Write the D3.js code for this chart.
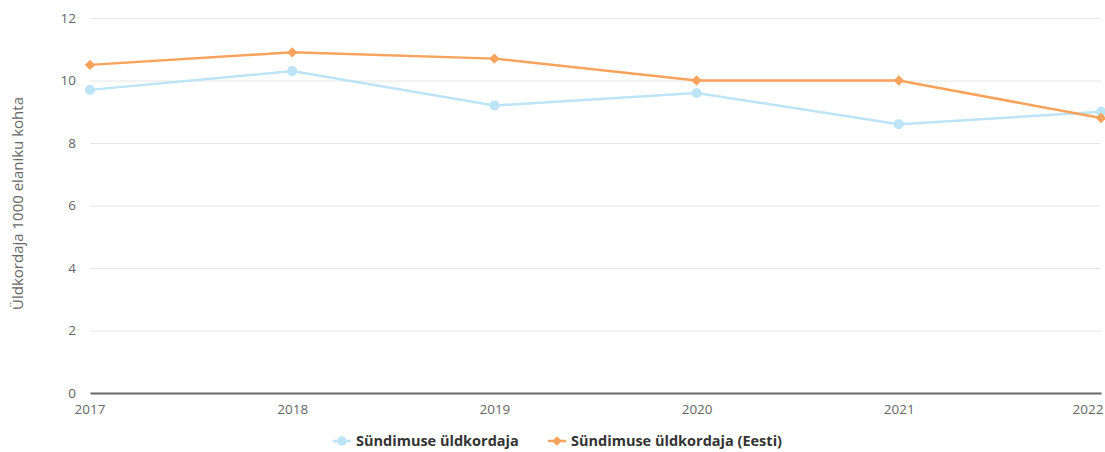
<!DOCTYPE html>
<html>
<head>
<meta charset="utf-8">
<script src="https://cdn.jsdelivr.net/npm/d3@7"></script>
<style>
  body { margin: 0; background: #fff; font-family: "Open Sans", sans-serif; }
  .tick text { fill: #666; font-size: 13.5px; font-family: "Open Sans", sans-serif; }
  .aText { fill: #666; font-size: 15px; }
  .legendText { fill: #333; font-size: 14.5px; font-weight: bold; }
</style>
</head>
<body>
<div id="chart"></div>
<script>
// chart data
var years = ["2017", "2018", "2019", "2020", "2021", "2022"];
var localRate = [9.7, 10.3, 9.2, 9.6, 8.6, 9.0];
var estoniaRate = [10.5, 10.9, 10.7, 10.0, 10.0, 8.8];
var yTicks = [0, 2, 4, 6, 8, 10, 12];
var seriesNames = ["Sündimuse üldkordaja", "Sündimuse üldkordaja (Eesti)"];
var seriesColors = ["#bce4f6", "#f7a35c"];

var svgWidth = 1105;
var svgHeight = 452;
var margin = { top: 18, right: 4, bottom: 59, left: 90 };
var width = svgWidth - margin.left - margin.right;
var height = svgHeight - margin.top - margin.bottom;

var svg = d3.select("#chart")
  .append("svg")
  .attr("width", svgWidth)
  .attr("height", svgHeight);

var chartGroup = svg.append("g")
  .attr("transform", `translate(${margin.left}, ${margin.top})`);

var xScale = d3.scalePoint()
  .domain(years)
  .range([0, width]);

var yScale = d3.scaleLinear()
  .domain([0, 12])
  .range([height, 0]);

// gridlines + y labels
var leftAxis = d3.axisLeft(yScale)
  .tickValues(yTicks)
  .tickSize(-width)
  .tickPadding(14);

var yAxis = chartGroup.append("g").call(leftAxis);
yAxis.select(".domain").remove();
yAxis.selectAll(".tick line").attr("stroke", "#e6e6e6");
yAxis.selectAll(".tick text").attr("dy", "0.32em");

// x axis
var bottomAxis = d3.axisBottom(xScale).tickSize(0).tickPadding(11);
var xAxis = chartGroup.append("g")
  .attr("transform", `translate(0, ${height})`)
  .call(bottomAxis);
xAxis.select(".domain").attr("stroke", "#666").attr("stroke-width", 2);
xAxis.selectAll(".tick text").attr("text-anchor", "middle");
xAxis.selectAll(".tick").filter((d, i) => i === 0).select("text").attr("text-anchor", "start").attr("dx", "-16");
xAxis.selectAll(".tick").filter((d, i) => i === years.length - 1).select("text").attr("text-anchor", "end").attr("dx", "2");

// y axis label
chartGroup.append("text")
  .attr("transform", "rotate(-90)")
  .attr("x", 0 - height / 2 + 2)
  .attr("y", 0 - margin.left + 23)
  .attr("text-anchor", "middle")
  .classed("aText", true)
  .text("Üldkordaja 1000 elaniku kohta");

var line = d3.line()
  .x((d, i) => xScale(years[i]))
  .y(d => yScale(d));

var allSeries = [localRate, estoniaRate];

allSeries.forEach(function (values, s) {
  chartGroup.append("path")
    .datum(values)
    .attr("fill", "none")
    .attr("stroke", seriesColors[s])
    .attr("stroke-width", 2.5)
    .attr("d", line);

  var sym = s === 0 ? d3.symbolCircle : d3.symbolDiamond2;
  var size = s === 0 ? 80 : 70;
  chartGroup.selectAll(".pt" + s)
    .data(values)
    .enter()
    .append("path")
    .attr("d", d3.symbol().type(sym).size(size))
    .attr("transform", (d, i) => `translate(${xScale(years[i])}, ${yScale(d)})`)
    .attr("fill", seriesColors[s]);
});

// legend
var legendY = 441;
var legendItems = [{ x: 333, name: seriesNames[0] }, { x: 548, name: seriesNames[1] }];
legendItems.forEach(function (item, s) {
  var g = svg.append("g").attr("transform", `translate(${item.x}, ${legendY})`);
  g.append("line")
    .attr("x1", 0).attr("x2", 18)
    .attr("stroke", seriesColors[s])
    .attr("stroke-width", 2.5);
  g.append("path")
    .attr("d", d3.symbol().type(s === 0 ? d3.symbolCircle : d3.symbolDiamond2).size(s === 0 ? 70 : 60))
    .attr("transform", "translate(9, 0)")
    .attr("fill", seriesColors[s]);
  g.append("text")
    .attr("x", 23)
    .attr("dy", "0.35em")
    .classed("legendText", true)
    .text(item.name);
});
</script>
</body>
</html>
